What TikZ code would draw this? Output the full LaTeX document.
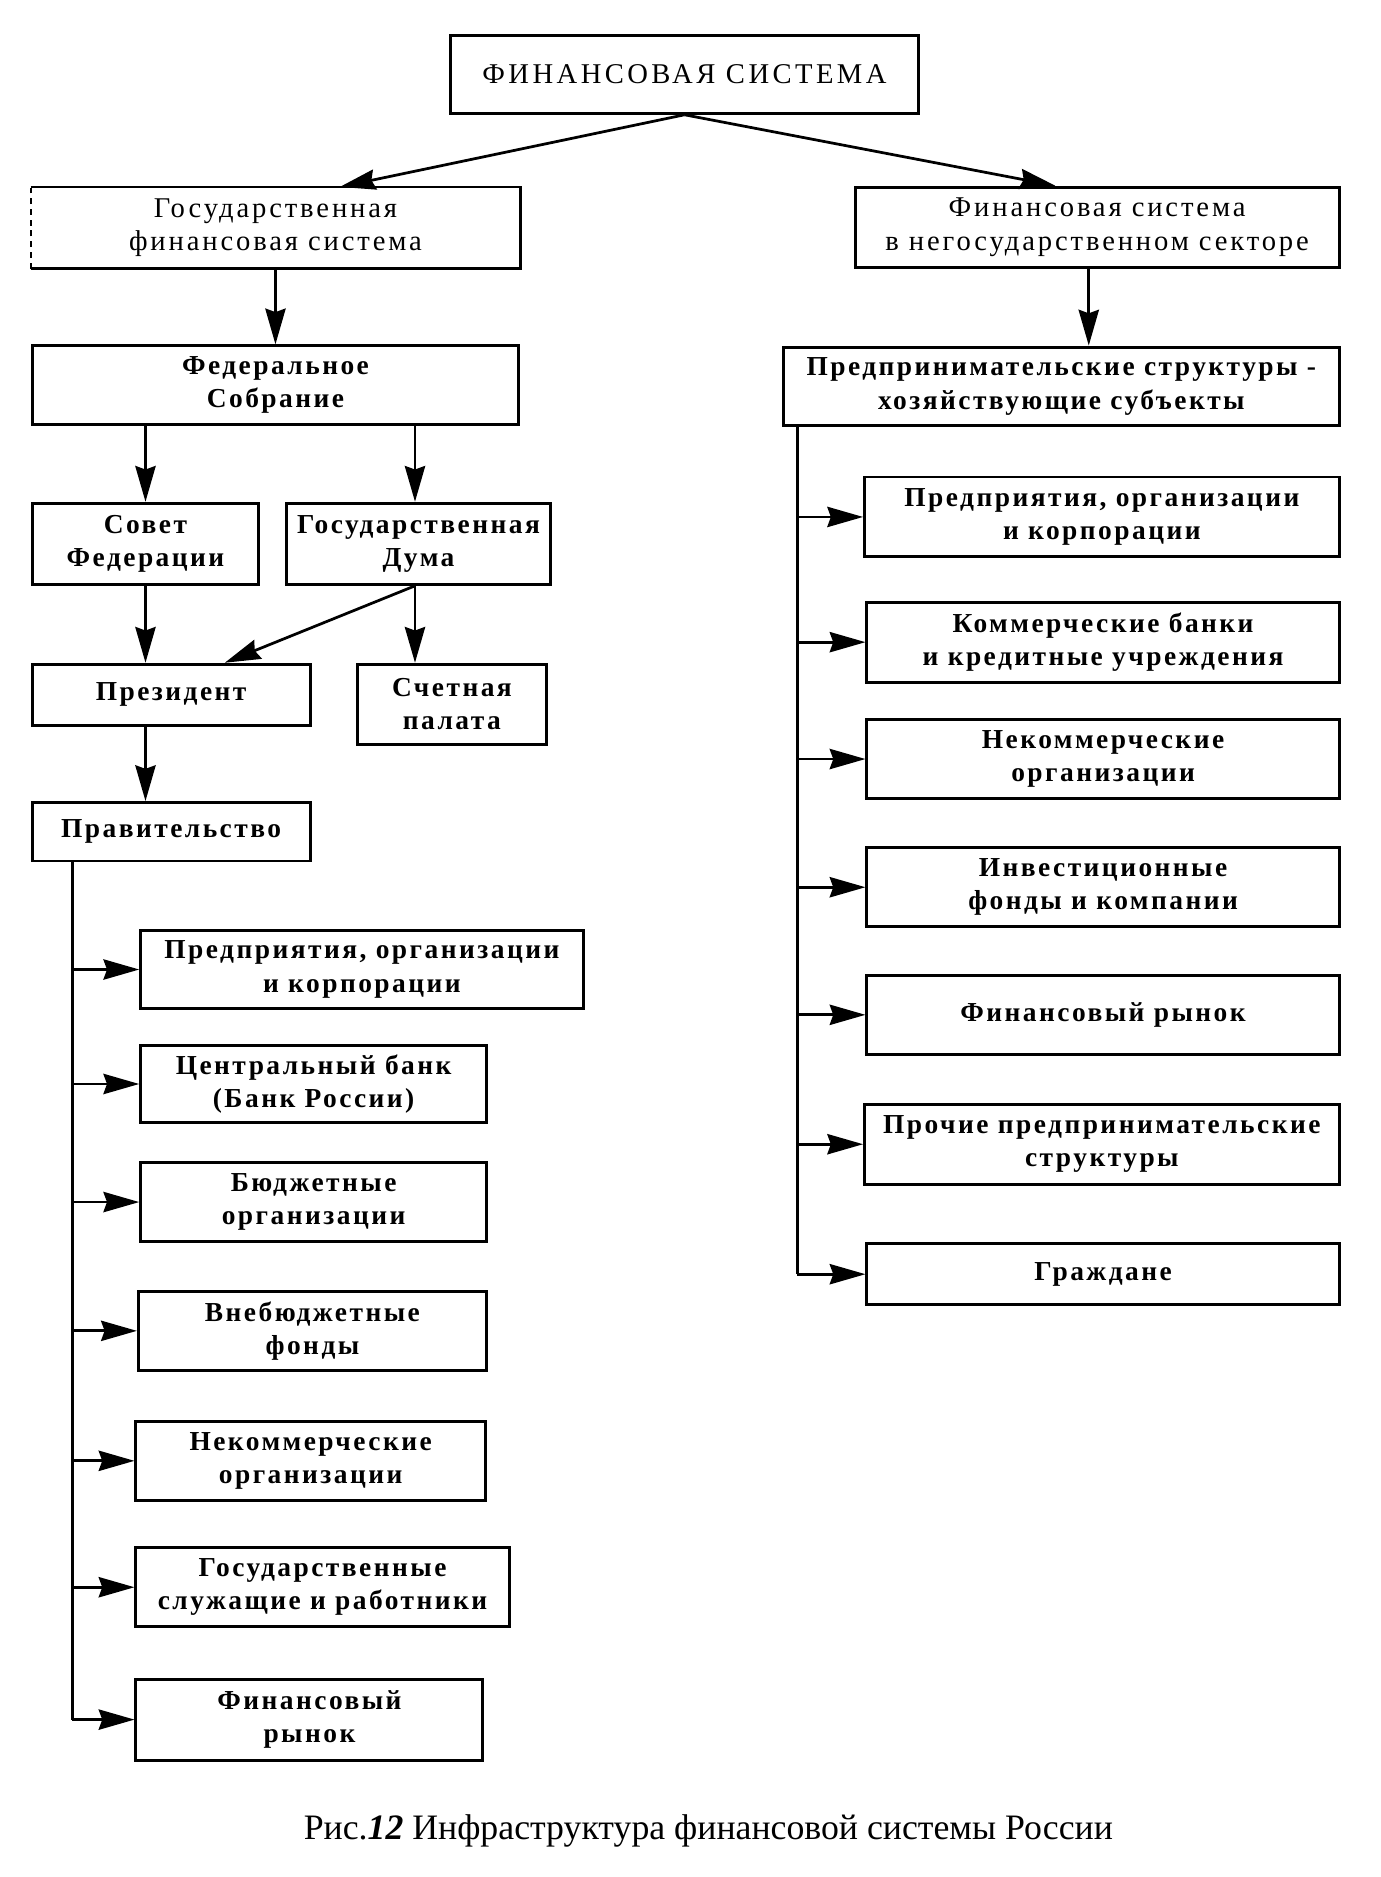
\documentclass[tikz,border=0pt]{standalone}
\usepackage{fontspec}
\setmainfont{Liberation Serif}
\newfontfamily\boxfont[LetterSpace=9]{Liberation Serif}
\newfontfamily\regfont[LetterSpace=10]{Liberation Serif}
\newfontfamily\topfont[LetterSpace=12]{Liberation Serif}
\usetikzlibrary{arrows.meta,calc}
\begin{document}
\begin{tikzpicture}[x=1pt,y=-1pt,
  box/.style={draw, line width=2.5pt, inner sep=2pt, align=center,
    font=\boxfont\bfseries\fontsize{23}{28}\selectfont},
  lbox/.style={box, font=\regfont\fontsize{24}{28}\selectfont},
  arr/.style={line width=2.3pt, -{Stealth[length=30pt,width=17pt,inset=3pt]}},
  ln/.style={line width=2.3pt}]
\useasboundingbox (0,0) rectangle (1158,1574);
% top
\node[lbox, font=\topfont\fontsize{24}{28}\selectfont, minimum width=392pt, minimum height=65pt] (top) at (574,62.5) {ФИНАНСОВАЯ СИСТЕМА};
\node[lbox, draw=none, minimum width=408pt, minimum height=66pt] (gov) at (231,191) {Государственная\\финансовая система};
\draw[ln] (gov.north west) -- (gov.north east) -- (gov.south east) -- (gov.south west);
\draw[line width=1.6pt, dash pattern=on 5pt off 4pt] (gov.south west) -- (gov.north west);
\node[lbox, minimum width=406pt, minimum height=67pt] (ngov) at (920,190.5) {Финансовая система\\в негосударственном секторе};
% left hierarchy
\node[box, minimum width=408pt, minimum height=66pt] (fed) at (231,323) {Федеральное\\Собрание};
\node[box, minimum width=190pt, minimum height=68pt] (sov) at (122,456) {Совет\\Федерации};
\node[box, minimum width=222pt, minimum height=68pt] (duma) at (351,456) {Государственная\\Дума};
\node[box, minimum width=233pt, minimum height=51pt] (pres) at (143.5,582.5) {Президент};
\node[box, minimum width=158pt, minimum height=67pt] (sch) at (379,590.5) {Счетная\\палата};
\node[box, minimum width=233pt, minimum height=49pt] (prav) at (143.5,697.5) {Правительство};
% left children
\node[box, minimum width=371pt, minimum height=66pt] (L1) at (303.5,813) {Предприятия, организации\\и корпорации};
\node[box, minimum width=290pt, minimum height=64pt] (L2) at (263,909) {Центральный банк\\(Банк России)};
\node[box, minimum width=290pt, minimum height=66pt] (L3) at (263,1008) {Бюджетные\\организации};
\node[box, minimum width=292pt, minimum height=66pt] (L4) at (262,1116) {Внебюджетные\\фонды};
\node[box, minimum width=293pt, minimum height=66pt] (L5) at (260.5,1225) {Некоммерческие\\организации};
\node[box, minimum width=313pt, minimum height=66pt] (L6) at (270.5,1331) {Государственные\\служащие и работники};
\node[box, minimum width=291pt, minimum height=68pt] (L7) at (259.5,1442) {Финансовый\\рынок};
% right hierarchy
\node[box, minimum width=466pt, minimum height=66pt] (pr) at (890,324) {Предпринимательские структуры -\\хозяйствующие субъекты};
\node[box, minimum width=398pt, minimum height=67pt] (R1) at (924,433.5) {Предприятия, организации\\и корпорации};
\node[box, minimum width=396pt, minimum height=67pt] (R2) at (925,538.5) {Коммерческие банки\\и кредитные учреждения};
\node[box, minimum width=396pt, minimum height=67pt] (R3) at (925,636.5) {Некоммерческие\\организации};
\node[box, minimum width=396pt, minimum height=66pt] (R4) at (925,744) {Инвестиционные\\фонды и компании};
\node[box, minimum width=396pt, minimum height=66pt] (R5) at (925,851) {Финансовый рынок};
\node[box, minimum width=398pt, minimum height=67pt] (R6) at (924,959.5) {Прочие предпринимательские\\структуры};
\node[box, minimum width=396pt, minimum height=51pt] (R7) at (925,1068.5) {Граждане};
% connectors
\coordinate (tsrc) at (top.south);
\coordinate (gtip) at ($(gov.north)+(54,0)$);
\coordinate (ntip) at ($(ngov.north)+(-35,0)$);
\draw[arr] (tsrc) -- (gtip);
\draw[arr] (tsrc) -- (ntip);
\draw[arr] (gov) -- (fed);
\coordinate (ngs) at ($(ngov.south)+(-7,0)$);
\draw[arr] (ngs) -- (ngs |- pr.north);
\draw[arr] (fed.south -| sov) -- (sov);
\coordinate (fd) at ($(fed.south -| duma.north)+(-3,0)$);
\draw[arr] (fd) -- (fd |- duma.north);
\draw[arr] (sov.south) -- (sov.south |- pres.north);
\coordinate (ds) at ($(duma.south)+(-3,0)$);
\coordinate (ptip) at ($(pres.north)+(45,0)$);
\draw[arr] (ds) -- (ptip);
\draw[arr] (ds) -- (ds |- sch.north);
\draw[arr] (sov.south |- pres.south) -- (sov.south |- prav.north);
% left trunk
\coordinate (tL) at ($(prav.south west)+(35,0)$);
\draw[ln] (tL) -- (tL |- L7.west);
\foreach \n in {L1,L2,L3,L4,L5,L6,L7}{\draw[arr] (tL |- \n.west) -- (\n.west);}
% right trunk
\coordinate (tR) at ($(pr.south west)+(13,0)$);
\draw[ln] (tR) -- (tR |- R7.west);
\foreach \n in {R1,R2,R3,R4,R5,R6,R7}{\draw[arr] (tR |- \n.west) -- (\n.west);}
% caption
\node[font=\fontsize{30}{34}\selectfont] (cap) at (594,1535) {Рис.{\bfseries\itshape 12} Инфраструктура финансовой системы России};
\end{tikzpicture}
\end{document}
